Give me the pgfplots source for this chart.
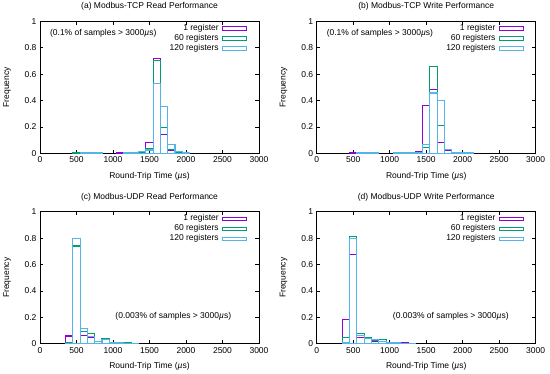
\documentclass[border=0pt]{standalone}
\usepackage{fontspec}
\setmainfont{Liberation Sans}
\usepackage{pgfplots}
\pgfplotsset{compat=1.18}
\definecolor{cpurple}{HTML}{9400D3}
\definecolor{cgreen}{HTML}{009E73}
\definecolor{ccyan}{HTML}{56B4E9}
\newcommand{\fs}{\fontsize{8.5}{10}\selectfont}
\pgfplotsset{
  histleg/.style={legend image code/.code={\draw[#1,fill=none,line width=0.8pt] (0pt,-1.7pt) rectangle (23.5pt,1.7pt);}},
  hbar/.style={ybar, bar width=100, bar shift=0pt, fill=none, draw=#1, line width=1.1pt, histleg},
  hist/.style={
    scale only axis, width=219pt, height=132pt,
    xmin=0, xmax=3000, ymin=0, ymax=1,
    xtick={0,500,1000,1500,2000,2500,3000},
    ytick={0,0.2,0.4,0.6,0.8,1},
    /pgf/number format/assume math mode=true,
    /pgf/number format/set thousands separator={},
    tick align=inside, major tick length=3.5pt,
    axis line style={line width=0.6pt},
    every tick/.style={black, line width=0.5pt},
    font=\fs,
    tick label style={font=\fs},
    xlabel={Round-Trip Time (\textit{µ}s)},
    ylabel={Frequency},
    xlabel style={at={(axis description cs:0.5,-0.172)}, anchor=center},
    ylabel style={at={(axis description cs:-0.1507,0.5)}, anchor=center, rotate=0},
    every axis title shift=0pt,
    title style={at={(axis description cs:0.5,1.1106)}, anchor=center, font=\fs},
    legend style={at={(0.958,1.0)}, anchor=north east, draw=none, fill=none, font=\fs,
      row sep=0.6pt, column sep=3pt, nodes={inner sep=0.6pt, text height=6.3pt, text depth=2pt}},
    legend cell align=right,
    legend plot pos=right,
  }
}
\begin{document}
\begin{tikzpicture}
\useasboundingbox (0pt,0pt) rectangle (550pt,-374pt);
% (a)
\begin{axis}[hist, at={(40pt,-153.3pt)}, anchor=south west, title={(a) Modbus-TCP Read Performance}]
\addplot[hbar=cpurple] coordinates {(500,0.003)(600,0.004)(700,0.005)(800,0.003)(1100,0.004)(1200,0.005)(1300,0.004)(1400,0.012)(1500,0.083)(1600,0.72)(1700,0.14)(1800,0.02)(1900,0.008)(2000,0.003)};
\addplot[hbar=cgreen] coordinates {(500,0.002)(700,0.003)(800,0.002)(1200,0.003)(1300,0.004)(1400,0.01)(1500,0.035)(1600,0.70)(1700,0.195)(1800,0.03)(1900,0.01)(2000,0.004)};
\addplot[hbar=ccyan] coordinates {(600,0.002)(700,0.003)(800,0.003)(1200,0.002)(1300,0.004)(1400,0.015)(1500,0.025)(1600,0.53)(1700,0.355)(1800,0.066)(1900,0.012)(2000,0.005)};
\legend{1 register,60 registers,120 registers}
\node[anchor=west, font=\fs] at (axis cs:90,0.91) {(0.1\% of samples > 3000\textit{µ}s)};
\end{axis}
% (b)
\begin{axis}[hist, at={(316.7pt,-153.3pt)}, anchor=south west, title={(b) Modbus-TCP Write Performance}]
\addplot[hbar=cpurple] coordinates {(500,0.002)(600,0.003)(700,0.003)(1100,0.003)(1200,0.004)(1300,0.006)(1400,0.015)(1500,0.36)(1600,0.48)(1700,0.08)(1800,0.02)(1900,0.005)};
\addplot[hbar=cgreen] coordinates {(600,0.004)(700,0.006)(800,0.004)(1100,0.003)(1200,0.004)(1300,0.005)(1400,0.006)(1500,0.043)(1600,0.66)(1700,0.21)(1800,0.03)(1900,0.008)(2000,0.003)};
\addplot[hbar=ccyan] coordinates {(600,0.003)(700,0.005)(800,0.004)(1100,0.004)(1200,0.006)(1300,0.004)(1400,0.005)(1500,0.07)(1600,0.457)(1700,0.40)(1800,0.03)(1900,0.008)(2000,0.004)(2100,0.002)};
\legend{1 register,60 registers,120 registers}
\node[anchor=west, font=\fs] at (axis cs:90,0.91) {(0.1\% of samples > 3000\textit{µ}s)};
\end{axis}
% (c)
\begin{axis}[hist, at={(40pt,-343.7pt)}, anchor=south west, title={(c) Modbus-UDP Read Performance}]
\addplot[hbar=cpurple] coordinates {(400,0.058)(500,0.796)(600,0.063)(700,0.047)(800,0.015)(900,0.035)(1000,0.01)(1100,0.008)(1200,0.005)(1300,0.003)};
\addplot[hbar=cgreen] coordinates {(400,0.005)(500,0.74)(600,0.09)(700,0.077)(800,0.02)(900,0.04)(1000,0.01)(1100,0.006)(1200,0.005)(1300,0.003)};
\addplot[hbar=ccyan] coordinates {(400,0.004)(500,0.80)(600,0.113)(700,0.055)(800,0.02)(900,0.03)(1000,0.012)(1100,0.007)(1200,0.004)(1300,0.003)};
\legend{1 register,60 registers,120 registers}
\node[font=\fs] at (axis cs:1826,0.21) {(0.003\% of samples > 3000\textit{µ}s)};
\end{axis}
% (d)
\begin{axis}[hist, at={(316.7pt,-343.7pt)}, anchor=south west, title={(d) Modbus-UDP Write Performance}]
\addplot[hbar=cpurple] coordinates {(400,0.186)(500,0.678)(600,0.05)(700,0.04)(800,0.02)(900,0.035)(1000,0.01)(1100,0.008)(1200,0.005)(1300,0.003)};
\addplot[hbar=cgreen] coordinates {(400,0.045)(500,0.81)(600,0.075)(700,0.045)(800,0.025)(900,0.03)(1000,0.01)(1100,0.007)(1200,0.004)(1300,0.003)};
\addplot[hbar=ccyan] coordinates {(400,0.01)(500,0.795)(600,0.065)(700,0.04)(800,0.03)(900,0.02)(1000,0.01)(1100,0.006)(1200,0.004)(1300,0.002)};
\legend{1 register,60 registers,120 registers}
\node[font=\fs] at (axis cs:1837,0.21) {(0.003\% of samples > 3000\textit{µ}s)};
\end{axis}
\end{tikzpicture}
\end{document}
